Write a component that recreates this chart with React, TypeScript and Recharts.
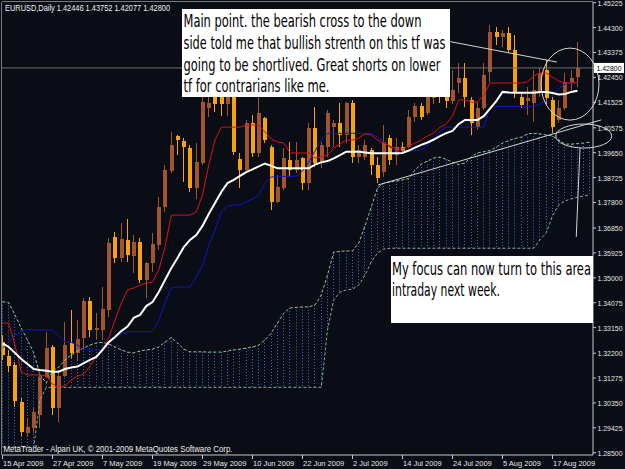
import React from "react"
import { Bar, ComposedChart, Line, ReferenceDot, ReferenceLine, XAxis, YAxis } from "recharts"

// daily bars, 15 Apr 2009 .. 21 Aug 2009
const opens = [
  1.3261, 1.3209, 1.3176, 1.3038, 1.2923, 1.2942, 1.299, 1.3131, 1.3243, 1.3016,
  1.3135, 1.3258, 1.3221, 1.3276, 1.3414, 1.3306, 1.3306, 1.338, 1.3652, 1.3574,
  1.3641, 1.3581, 1.3633, 1.3492, 1.3555, 1.3622, 1.3763, 1.3897, 1.4027, 1.4009,
  1.3982, 1.3834, 1.3927, 1.4131, 1.4243, 1.4228, 1.4146, 1.4172, 1.3942, 1.3901,
  1.4075, 1.3964, 1.4094, 1.3986, 1.3782, 1.3834, 1.3938, 1.3901, 1.3945, 1.3852,
  1.4057, 1.393, 1.3986, 1.4061, 1.4075, 1.4031, 1.415, 1.3949, 1.3949, 1.3975,
  1.3919, 1.3895, 1.402, 1.3956, 1.3986, 1.3986, 1.4098, 1.4139, 1.4113, 1.4168,
  1.4205, 1.4172, 1.4157, 1.4224, 1.4243, 1.4161, 1.4061, 1.4131, 1.4265, 1.4414,
  1.4395, 1.441, 1.4347, 1.4172, 1.4157, 1.415, 1.4191, 1.4272, 1.4161, 1.4087,
  1.4131, 1.4228, 1.42446,
]
const highs = [
  1.3287, 1.3232, 1.3187, 1.3053, 1.2979, 1.302, 1.3146, 1.3299, 1.325, 1.315,
  1.3336, 1.338, 1.3343, 1.3425, 1.3429, 1.3369, 1.3466, 1.3648, 1.367, 1.3704,
  1.3719, 1.3659, 1.3648, 1.3559, 1.3667, 1.38, 1.3919, 1.4042, 1.4031, 1.402,
  1.3994, 1.4001, 1.4198, 1.4339, 1.4328, 1.4291, 1.4272, 1.4217, 1.3964, 1.4087,
  1.4105, 1.4172, 1.4098, 1.3994, 1.3882, 1.3982, 1.4005, 1.4005, 1.395, 1.4075,
  1.4135, 1.4005, 1.4124, 1.4087, 1.415, 1.4153, 1.4161, 1.3994, 1.4012, 1.3982,
  1.3949, 1.4068, 1.4031, 1.402, 1.4005, 1.4124, 1.415, 1.415, 1.4205, 1.4228,
  1.4235, 1.422, 1.4272, 1.4298, 1.4298, 1.4172, 1.4153, 1.4298, 1.444, 1.4432,
  1.4421, 1.4432, 1.4402, 1.4187, 1.4209, 1.4272, 1.428, 1.431, 1.4172, 1.4161,
  1.4261, 1.4272, 1.43752,
]
const lows = [
  1.3195, 1.315, 1.302, 1.2912, 1.2908, 1.2923, 1.2942, 1.3128, 1.299, 1.2964,
  1.3131, 1.3202, 1.3195, 1.3232, 1.328, 1.3269, 1.3269, 1.3354, 1.3555, 1.3559,
  1.3559, 1.3518, 1.3481, 1.3425, 1.3522, 1.3603, 1.3745, 1.389, 1.3956, 1.3856,
  1.3819, 1.3793, 1.3919, 1.4098, 1.4116, 1.4101, 1.4101, 1.3956, 1.3834, 1.389,
  1.3949, 1.3949, 1.4001, 1.3752, 1.3778, 1.3826, 1.3875, 1.389, 1.3826, 1.3826,
  1.3912, 1.3908, 1.3949, 1.3986, 1.3986, 1.4001, 1.3927, 1.3927, 1.3938, 1.3882,
  1.3852, 1.3875, 1.3919, 1.3919, 1.3964, 1.3982, 1.4079, 1.4087, 1.4105, 1.4146,
  1.415, 1.4131, 1.4146, 1.4187, 1.4135, 1.4031, 1.4049, 1.4124, 1.4228, 1.4365,
  1.4358, 1.4336, 1.4168, 1.4131, 1.4105, 1.4079, 1.4172, 1.4142, 1.4038, 1.4075,
  1.4124, 1.4198, 1.42077,
]
const closes = [
  1.3213, 1.3172, 1.3042, 1.2927, 1.2946, 1.3001, 1.3131, 1.3239, 1.3016, 1.3135,
  1.325, 1.3221, 1.3273, 1.3414, 1.3306, 1.3313, 1.3384, 1.3629, 1.3574, 1.3644,
  1.3585, 1.3633, 1.3492, 1.3555, 1.3626, 1.3763, 1.3901, 1.3994, 1.4012, 1.3986,
  1.3834, 1.393, 1.4153, 1.415, 1.4146, 1.4146, 1.4205, 1.3968, 1.3901, 1.4075,
  1.3964, 1.4113, 1.4012, 1.3782, 1.3838, 1.3945, 1.3901, 1.3938, 1.3852, 1.4057,
  1.3927, 1.3994, 1.4113, 1.4075, 1.4031, 1.415, 1.3949, 1.3975, 1.3994, 1.3919,
  1.3871, 1.4005, 1.3938, 1.3986, 1.3971, 1.4098, 1.4139, 1.4098, 1.4172, 1.4205,
  1.4172, 1.4157, 1.4198, 1.4243, 1.4172, 1.4075, 1.4131, 1.4254, 1.4414, 1.4395,
  1.441, 1.4347, 1.4191, 1.4142, 1.4168, 1.4198, 1.4261, 1.4168, 1.4061, 1.4131,
  1.4228, 1.4243, 1.428,
]

const tenkan = [
  1.3332, 1.3332, 1.325, 1.315, 1.3139, 1.3139, 1.3139, 1.3135, 1.3105, 1.3094,
  1.3098, 1.312, 1.3135, 1.3142, 1.3172, 1.3206, 1.3232, 1.3276, 1.3343, 1.3406,
  1.3455, 1.3462, 1.3473, 1.3481, 1.3484, 1.3529, 1.3614, 1.3733, 1.3733, 1.3733,
  1.3733, 1.3745, 1.3808, 1.3919, 1.4012, 1.406, 1.406, 1.406, 1.406, 1.4068,
  1.4068, 1.4068, 1.4042, 1.4016, 1.4005, 1.4001, 1.3964, 1.3964, 1.3964, 1.3964,
  1.3945, 1.3949, 1.3956, 1.3982, 1.3997, 1.4012, 1.4012, 1.402, 1.4035, 1.4031,
  1.4012, 1.4001, 1.399, 1.3979, 1.3979, 1.399, 1.4001, 1.4012, 1.4027, 1.4038,
  1.406, 1.4072, 1.4101, 1.4161, 1.4161, 1.4153, 1.4153, 1.4179, 1.4224, 1.4224,
  1.4224, 1.4224, 1.4224, 1.4224, 1.4228, 1.425, 1.4261, 1.4261, 1.4246, 1.4231,
  1.4224, 1.4224, 1.4228,
]
const kijun = [
  1.3239, 1.3261, 1.3287, 1.3302, 1.3308, 1.3306, 1.3306, 1.3306, 1.3306, 1.3284,
  1.3263, 1.326, 1.325, 1.3232, 1.3232, 1.3232, 1.3232, 1.3258, 1.328, 1.3291,
  1.33, 1.33, 1.33, 1.33, 1.33, 1.3343, 1.3406, 1.3462, 1.3466, 1.3466,
  1.3466, 1.3503, 1.3544, 1.3622, 1.3678, 1.3745, 1.3767, 1.3771, 1.3771, 1.3782,
  1.3793, 1.3808, 1.3852, 1.3875, 1.3875, 1.3877, 1.3877, 1.3878, 1.3897, 1.393,
  1.3971, 1.4012, 1.4037, 1.4037, 1.4037, 1.4037, 1.4037, 1.4037, 1.4037, 1.4037,
  1.4023, 1.4005, 1.3986, 1.3971, 1.3971, 1.3971, 1.3973, 1.3975, 1.3994, 1.4016,
  1.4046, 1.406, 1.406, 1.406, 1.406, 1.406, 1.406, 1.406, 1.4135, 1.4137,
  1.4137, 1.4137, 1.4137, 1.4137, 1.4137, 1.4137, 1.4146, 1.4157, 1.4179, 1.4202,
  1.422, 1.4224, 1.4225,
]
const trendMa = [
  1.3256, 1.3243, 1.3221, 1.3198, 1.318, 1.3161, 1.3157, 1.3155, 1.3151, 1.3151,
  1.3161, 1.3167, 1.317, 1.3183, 1.3195, 1.3206, 1.3232, 1.3261, 1.328, 1.3302,
  1.3319, 1.3351, 1.3362, 1.3395, 1.341, 1.3447, 1.3492, 1.3536, 1.3574, 1.3614,
  1.3641, 1.3659, 1.3693, 1.3737, 1.3778, 1.3819, 1.3852, 1.3864, 1.3879, 1.3893,
  1.3903, 1.3914, 1.3925, 1.3916, 1.3907, 1.3907, 1.3907, 1.3907, 1.3907, 1.3907,
  1.3921, 1.3929, 1.3934, 1.3944, 1.3956, 1.3969, 1.3969, 1.3969, 1.3966, 1.3963,
  1.3963, 1.3963, 1.3963, 1.3963, 1.3964, 1.3973, 1.3984, 1.3994, 1.4003, 1.4014,
  1.4027, 1.4038, 1.4046, 1.4072, 1.4087, 1.4087, 1.4087, 1.4101, 1.4129, 1.4157,
  1.4191, 1.4189, 1.4188, 1.4188, 1.4188, 1.4188, 1.4191, 1.4191, 1.4187, 1.4181,
  1.4183, 1.4191, 1.4195,
]
// cloud runs two slots past the last bar
const spanA = [
  1.3411, 1.3408, 1.3362, 1.3313, 1.3269, 1.3221, 1.3139, 1.3109, 1.3154, 1.3168,
  1.3195, 1.3213, 1.3228, 1.3239, 1.325, 1.3258, 1.326, 1.3254, 1.3243, 1.3232,
  1.3224, 1.3221, 1.3228, 1.3232, 1.3235, 1.3243, 1.3261, 1.3278, 1.3258, 1.3235,
  1.3225, 1.3225, 1.3225, 1.3224, 1.3224, 1.3224, 1.3228, 1.3232, 1.3235, 1.3239,
  1.3243, 1.325, 1.3269, 1.3295, 1.3332, 1.3369, 1.3388, 1.339, 1.3392, 1.3392,
  1.3399, 1.3436, 1.351, 1.3596, 1.3598, 1.36, 1.36, 1.3629, 1.3693, 1.3763,
  1.3834, 1.3852, 1.3856, 1.386, 1.3864, 1.3869, 1.3901, 1.3923, 1.3934, 1.3945,
  1.3949, 1.394, 1.393, 1.3921, 1.3927, 1.3949, 1.3964, 1.3969, 1.3973, 1.3986,
  1.4001, 1.401, 1.4018, 1.4023, 1.4035, 1.4037, 1.4035, 1.4031, 1.4027, 1.4012,
  1.3997, 1.3997, 1.3999, 1.4001, 1.4005,
]
const spanB = [
  1.2871, 1.2871, 1.2871, 1.2871, 1.2871, 1.2871, 1.3046, 1.3093, 1.3093, 1.3093,
  1.3093, 1.3093, 1.3093, 1.3093, 1.3093, 1.3093, 1.3093, 1.3093, 1.3093, 1.3093,
  1.3093, 1.3093, 1.3093, 1.3093, 1.3093, 1.3093, 1.3093, 1.3093, 1.3093, 1.3093,
  1.3093, 1.3093, 1.3093, 1.3093, 1.3093, 1.3093, 1.3093, 1.3093, 1.3093, 1.3093,
  1.3093, 1.3093, 1.3093, 1.3093, 1.3093, 1.3093, 1.3093, 1.3093, 1.3093, 1.3093,
  1.3093, 1.3093, 1.3306, 1.3418, 1.3447, 1.3455, 1.3458, 1.3473, 1.351, 1.3559,
  1.3592, 1.3607, 1.361, 1.361, 1.361, 1.361, 1.361, 1.361, 1.361, 1.361,
  1.361, 1.361, 1.361, 1.361, 1.361, 1.361, 1.361, 1.361, 1.361, 1.361,
  1.361, 1.361, 1.361, 1.361, 1.361, 1.361, 1.3641, 1.3667, 1.373, 1.3771,
  1.3786, 1.3793, 1.38, 1.3804, 1.3808,
]

const dateLabels = [
  "15 Apr 2009", "27 Apr 2009", "7 May 2009", "19 May 2009", "29 May 2009", "10 Jun 2009",
  "22 Jun 2009", "2 Jul 2009", "14 Jul 2009", "24 Jul 2009", "5 Aug 2009", "17 Aug 2009",
]
const dateTickIdx = dateLabels.map((_, k) => k * 8)
const priceTicks = [
  1.285, 1.29425, 1.3035, 1.31275, 1.322, 1.3315, 1.34075, 1.35, 1.35925, 1.3685,
  1.378, 1.38725, 1.3965, 1.40575, 1.41525, 1.4245, 1.428, 1.43375, 1.443, 1.45225,
]
const lastPrice = 1.428

// hand drawn marks, in bar index / price
const trendSupport = [{ x: 60.1, y: 1.3845 }, { x: 95.8, y: 1.4087 }]
const pointerLine = [{ x: 71.6, y: 1.4378 }, { x: 88.7, y: 1.4302 }]
const dropLine = [{ x: 92.4, y: 1.3982 }, { x: 91.8, y: 1.3652 }]
const bigRing = { x: 90.8, y: 1.422 }
const flatRing = { x: 93.0, y: 1.4027 }

const rows = spanA.map((a, i) => {
  const has = i < opens.length
  return {
    i,
    open: has ? opens[i] : null,
    high: has ? highs[i] : null,
    low: has ? lows[i] : null,
    close: has ? closes[i] : null,
    range: has ? [lows[i], highs[i]] : null,
    tenkan: has ? tenkan[i] : null,
    kijun: has ? kijun[i] : null,
    ma: has ? trendMa[i] : null,
    spanA: a,
    spanB: spanB[i],
    cloud: [Math.min(a, spanB[i]), Math.max(a, spanB[i])],
  }
})

const BG = "#0a0d15"
const AXIS = "#c8c8c8"
const UP = "#a0552e"
const DOWN = "#f7a30c"
const MARK = "#d4d4d4"
const tickFont = "'Liberation Sans', Arial, sans-serif"
const noteFont = "'DejaVu Sans Condensed', 'Liberation Sans Narrow', 'DejaVu Sans', sans-serif"
const noteSquash = 0.65

function Candle(props: any) {
  const { x, y, width, height, payload } = props
  if (payload == null || payload.open == null || y == null) return null
  const { open, close, high, low } = payload
  const h = Math.abs(height)
  const top = Math.min(y, y + height)
  const k = high > low ? h / (high - low) : 0
  const up = close >= open
  const c = Math.floor(x + width / 2)
  const bodyTop = top + (high - Math.max(open, close)) * k
  const bodyH = Math.max(1, Math.abs(close - open) * k)
  const col = up ? UP : DOWN
  return (
    <g shapeRendering="crispEdges">
      <rect x={c} y={top} width={1} height={Math.max(1, h)} fill={col} />
      <rect x={c - 1} y={bodyTop} width={4} height={bodyH} fill={col} />
    </g>
  )
}

function Hatch(props: any) {
  const { x, y, width, height } = props
  if (y == null) return null
  const c = Math.floor(x + width / 2) + 0.5
  return (
    <line x1={c} x2={c} y1={y} y2={y + Math.abs(height)} stroke="#4668cc" strokeDasharray="1 2" />
  )
}

function DateTick({ x, payload }: any) {
  return (
    <text x={x + 0.5} y={466} fill="#e6e6e6" fontSize={7.5} fontFamily={tickFont}>
      {dateLabels[Math.round(payload.value / 8)]}
    </text>
  )
}

function PriceTick({ y, payload }: any) {
  const v = payload.value
  const label = v.toFixed(5)
  if (v === lastPrice) {
    return (
      <g>
        <rect x={594} y={y - 5} width={30} height={10} fill="#ffffff" />
        <text x={596.5} y={y + 3} fill="#000000" fontSize={7.2} fontFamily={tickFont} textLength={25} lengthAdjust="spacingAndGlyphs">
          {label}
        </text>
      </g>
    )
  }
  return (
    <text x={597.5} y={y + 3} fill="#e6e6e6" fontSize={7.2} fontFamily={tickFont} textLength={25} lengthAdjust="spacingAndGlyphs">
      {label}
    </text>
  )
}

function Ring({ cx, cy, rx, ry }: any) {
  return <ellipse cx={cx} cy={cy} rx={rx} ry={ry} fill="none" stroke={MARK} strokeWidth={1} />
}

// the note font is much narrower than anything installed, so squash it
function NoteLine({ x, y, w, children }: any) {
  return (
    <g transform={`translate(${x} ${y}) scale(${noteSquash} 1)`}>
      <text x={0} y={0} textLength={w / noteSquash} lengthAdjust="spacingAndGlyphs" fill="#000" fontSize={17} fontFamily={noteFont}>
        {children}
      </text>
    </g>
  )
}

export default function App() {
  return (
    <div style={{ position: "fixed", left: 0, top: 0, width: 625, height: 469, background: BG, overflow: "hidden" }}>
      <ComposedChart width={625} height={469} data={rows} margin={{ top: 2, right: 0, bottom: 0, left: 2 }}>
        <XAxis
          dataKey="i"
          type="number"
          domain={[-0.08, 94.48]}
          allowDataOverflow
          ticks={dateTickIdx}
          interval={0}
          height={14}
          tickSize={4}
          stroke={AXIS}
          tickLine={{ stroke: AXIS }}
          tick={<DateTick />}
        />
        <XAxis xAxisId="cloud" dataKey="i" type="number" domain={[-0.08, 94.48]} allowDataOverflow hide />
        <YAxis
          orientation="right"
          width={32}
          type="number"
          domain={[1.28415, 1.45251]}
          allowDataOverflow
          ticks={priceTicks}
          interval={0}
          tickSize={3}
          stroke={AXIS}
          tickLine={{ stroke: AXIS }}
          tick={<PriceTick />}
        />
        <Bar xAxisId="cloud" dataKey="cloud" barSize={4} shape={<Hatch />} isAnimationActive={false} />
        <Line dataKey="spanA" stroke="#8fc49c" strokeDasharray="3 2" dot={false} isAnimationActive={false} />
        <Line dataKey="spanB" stroke="#8aa8a0" strokeDasharray="3 2" dot={false} isAnimationActive={false} />
        <Bar dataKey="range" barSize={4} shape={<Candle />} isAnimationActive={false} />
        <Line dataKey="kijun" stroke="#1414cc" strokeWidth={1} dot={false} isAnimationActive={false} />
        <Line dataKey="tenkan" stroke="#dd1111" strokeWidth={1} dot={false} isAnimationActive={false} />
        <Line dataKey="ma" stroke="#ffffff" strokeWidth={2} dot={false} isAnimationActive={false} />
        <ReferenceLine y={lastPrice} stroke="#6f6f6f" strokeWidth={1} />
        <ReferenceLine segment={trendSupport} stroke={MARK} ifOverflow="visible" />
        <ReferenceLine segment={pointerLine} stroke={MARK} ifOverflow="visible" />
        <ReferenceLine segment={dropLine} stroke={MARK} ifOverflow="visible" />
        <ReferenceDot x={bigRing.x} y={bigRing.y} ifOverflow="visible" shape={(p: any) => <Ring cx={p.cx} cy={p.cy} rx={29} ry={36} />} />
        <ReferenceDot x={flatRing.x} y={flatRing.y} ifOverflow="visible" shape={(p: any) => <Ring cx={p.cx} cy={p.cy} rx={28} ry={12} />} />
      </ComposedChart>
      <svg width={625} height={469} style={{ position: "absolute", left: 0, top: 0, pointerEvents: "none" }}>
        <line x1={1.5} x2={1.5} y1={2} y2={455} stroke="#7a7a7a" />
        <line x1={2} x2={593} y1={1.5} y2={1.5} stroke="#7a7a7a" />
        <text x={5} y={10.5} fill="#f0f0f0" fontSize={8.5} fontFamily={tickFont} textLength={165} lengthAdjust="spacingAndGlyphs">
          EURUSD,Daily  1.42446 1.43752 1.42077 1.42800
        </text>
        <text x={3.5} y={452} fill="#f0f0f0" fontSize={8.5} fontFamily={tickFont} textLength={229} lengthAdjust="spacingAndGlyphs">
          MetaTrader - Alpari UK, © 2001-2009 MetaQuotes Software Corp.
        </text>
        <rect x={182} y={9} width={268} height={88} fill="#ffffff" />
        <NoteLine x={183.5} y={27} w={238}>Main point. the bearish cross to the down</NoteLine>
        <NoteLine x={183.5} y={49} w={262}>side told me that bullish strenth on this tf was</NoteLine>
        <NoteLine x={183.5} y={71} w={257}>going to be shortlived. Great shorts on lower</NoteLine>
        <NoteLine x={183.5} y={92} w={146}>tf for contrarians like me.</NoteLine>
        <rect x={391} y={256} width={202} height={67} fill="#ffffff" />
        <NoteLine x={392} y={275} w={199}>My focus can now turn to this area</NoteLine>
        <NoteLine x={392} y={296} w={108}>intraday next week.</NoteLine>
      </svg>
    </div>
  )
}
